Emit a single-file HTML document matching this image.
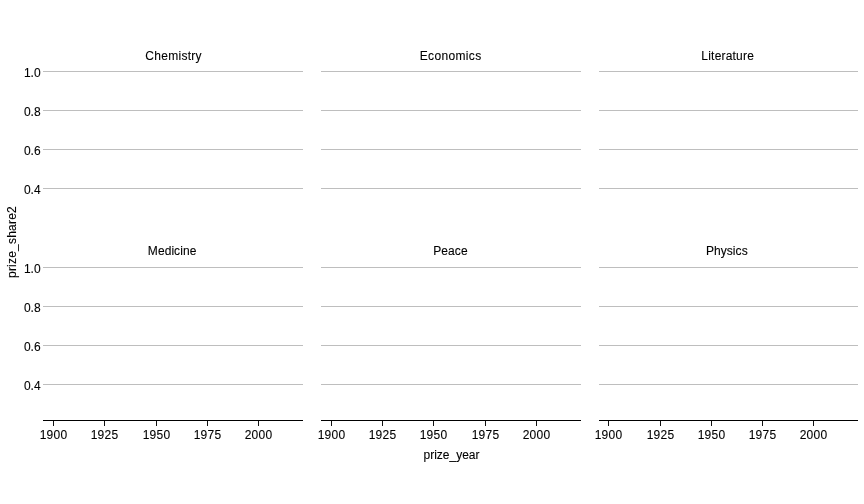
<!DOCTYPE html>
<html><head><meta charset="utf-8"><title>plot</title>
<style>
html,body{margin:0;padding:0;background:#fff;}
body{width:864px;height:504px;position:relative;overflow:hidden;font-family:"Liberation Sans",Arial,sans-serif;font-size:12px;color:#000;line-height:14px;-webkit-text-stroke:0.1px #000;}
.g{position:absolute;height:1px;background:#bebebe;}
.ax{position:absolute;height:1px;background:#000;}
.tk{position:absolute;width:1px;height:5px;background:#111;}
.t{position:absolute;white-space:nowrap;height:14px;}
.c{text-align:center;}
.r{text-align:right;}
.d{letter-spacing:0.25px;}
</style></head><body>

<div class="g" style="left:43px;top:71px;width:260px"></div>
<div class="g" style="left:43px;top:110px;width:260px"></div>
<div class="g" style="left:43px;top:149px;width:260px"></div>
<div class="g" style="left:43px;top:188px;width:260px"></div>
<div class="t c" style="left:43.59px;width:260px;top:49px;letter-spacing:0.28px">Chemistry</div>
<div class="g" style="left:321px;top:71px;width:260px"></div>
<div class="g" style="left:321px;top:110px;width:260px"></div>
<div class="g" style="left:321px;top:149px;width:260px"></div>
<div class="g" style="left:321px;top:188px;width:260px"></div>
<div class="t c" style="left:320.63px;width:260px;top:49px;letter-spacing:0.356px">Economics</div>
<div class="g" style="left:599px;top:71px;width:259px"></div>
<div class="g" style="left:599px;top:110px;width:259px"></div>
<div class="g" style="left:599px;top:149px;width:259px"></div>
<div class="g" style="left:599px;top:188px;width:259px"></div>
<div class="t c" style="left:598.22px;width:259px;top:49px;letter-spacing:0.2px">Literature</div>
<div class="t r" style="left:0;width:40.6px;top:66px">1.0</div>
<div class="t r" style="left:0;width:40.6px;top:105px">0.8</div>
<div class="t r" style="left:0;width:40.6px;top:144px">0.6</div>
<div class="t r" style="left:0;width:40.6px;top:183px">0.4</div>
<div class="g" style="left:43px;top:267px;width:260px"></div>
<div class="g" style="left:43px;top:306px;width:260px"></div>
<div class="g" style="left:43px;top:345px;width:260px"></div>
<div class="g" style="left:43px;top:384px;width:260px"></div>
<div class="t c" style="left:42.13px;width:260px;top:244px;letter-spacing:0.06px">Medicine</div>
<div class="g" style="left:321px;top:267px;width:260px"></div>
<div class="g" style="left:321px;top:306px;width:260px"></div>
<div class="g" style="left:321px;top:345px;width:260px"></div>
<div class="g" style="left:321px;top:384px;width:260px"></div>
<div class="t c" style="left:320.43px;width:260px;top:244px;letter-spacing:0.1px">Peace</div>
<div class="g" style="left:599px;top:267px;width:259px"></div>
<div class="g" style="left:599px;top:306px;width:259px"></div>
<div class="g" style="left:599px;top:345px;width:259px"></div>
<div class="g" style="left:599px;top:384px;width:259px"></div>
<div class="t c" style="left:597.34px;width:259px;top:244px;letter-spacing:0.08px">Physics</div>
<div class="t r" style="left:0;width:40.6px;top:262px">1.0</div>
<div class="t r" style="left:0;width:40.6px;top:301px">0.8</div>
<div class="t r" style="left:0;width:40.6px;top:340px">0.6</div>
<div class="t r" style="left:0;width:40.6px;top:379px">0.4</div>
<div class="ax" style="left:43px;top:420px;width:260px"></div>
<div class="tk" style="left:53px;top:421px"></div>
<div class="t c d" style="left:33.52px;width:40px;top:428px">1900</div>
<div class="tk" style="left:104px;top:421px"></div>
<div class="t c d" style="left:84.53px;width:40px;top:428px">1925</div>
<div class="tk" style="left:156px;top:421px"></div>
<div class="t c d" style="left:136.53px;width:40px;top:428px">1950</div>
<div class="tk" style="left:207px;top:421px"></div>
<div class="t c d" style="left:187.53px;width:40px;top:428px">1975</div>
<div class="tk" style="left:258px;top:421px"></div>
<div class="t c d" style="left:238.52px;width:40px;top:428px">2000</div>
<div class="ax" style="left:321px;top:420px;width:260px"></div>
<div class="tk" style="left:331px;top:421px"></div>
<div class="t c d" style="left:311.52px;width:40px;top:428px">1900</div>
<div class="tk" style="left:382px;top:421px"></div>
<div class="t c d" style="left:362.52px;width:40px;top:428px">1925</div>
<div class="tk" style="left:433px;top:421px"></div>
<div class="t c d" style="left:413.52px;width:40px;top:428px">1950</div>
<div class="tk" style="left:485px;top:421px"></div>
<div class="t c d" style="left:465.52px;width:40px;top:428px">1975</div>
<div class="tk" style="left:536px;top:421px"></div>
<div class="t c d" style="left:516.52px;width:40px;top:428px">2000</div>
<div class="ax" style="left:599px;top:420px;width:259px"></div>
<div class="tk" style="left:608px;top:421px"></div>
<div class="t c d" style="left:588.52px;width:40px;top:428px">1900</div>
<div class="tk" style="left:660px;top:421px"></div>
<div class="t c d" style="left:640.52px;width:40px;top:428px">1925</div>
<div class="tk" style="left:711px;top:421px"></div>
<div class="t c d" style="left:691.52px;width:40px;top:428px">1950</div>
<div class="tk" style="left:762px;top:421px"></div>
<div class="t c d" style="left:742.52px;width:40px;top:428px">1975</div>
<div class="tk" style="left:813px;top:421px"></div>
<div class="t c d" style="left:793.52px;width:40px;top:428px">2000</div>
<div class="t c" style="left:351.5px;width:200px;top:448px">prize_year</div>
<div class="t c" style="left:-88.5px;width:200px;top:235px;transform:rotate(-90deg);transform-origin:50% 50%;letter-spacing:0.22px">prize_share2</div>
</body></html>
